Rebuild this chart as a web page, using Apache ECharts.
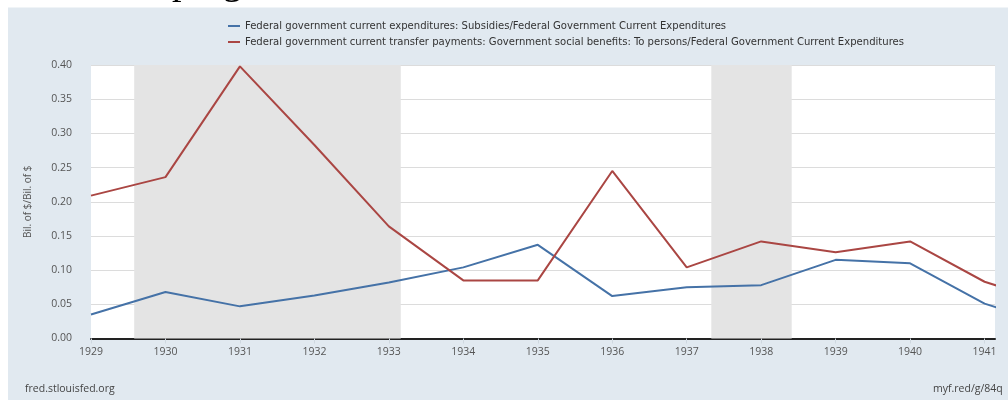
<!DOCTYPE html>
<html><head><meta charset="utf-8">
<script src="https://cdn.jsdelivr.net/npm/echarts@6/dist/echarts.min.js"></script>
<style>html,body{margin:0;padding:0;background:#fff}#c{width:1008px;height:400px}</style>
</head><body><div id="c"></div>
<script>
const years = [1929,1930,1931,1932,1933,1934,1935,1936,1937,1938,1939,1940,1941,1942];
const subsidies = [0.035,0.068,0.047,0.063,0.082,0.104,0.137,0.062,0.075,0.078,0.115,0.110,0.051,0.016];
const socialBenefits = [0.209,0.236,0.398,0.283,0.164,0.085,0.085,0.245,0.104,0.142,0.126,0.142,0.083,0.048];
const tickYears = [1929,1930,1931,1932,1933,1934,1935,1936,1937,1938,1939,1940,1941];
const recessionStarts = [1929.58, 1937.33];
const recessionEnds = [1933.16, 1938.41];
const seriesNames = [
  'Federal government current expenditures: Subsidies/Federal Government Current Expenditures',
  'Federal government current transfer payments: Government social benefits: To persons/Federal Government Current Expenditures'
];
const yAxisName = 'Bil. of $/Bil. of $';

const chart = echarts.init(document.getElementById('c'), null, {renderer:'canvas'});
const pairs = (a) => years.map((y,i)=>[y,a[i]]);
const recessions = recessionStarts.map((s,i)=>[{xAxis:s},{xAxis:recessionEnds[i]}]);
const font = "'Open Sans', sans-serif";
chart.setOption({
  backgroundColor:'#ffffff',
  animation:false,
  graphic:[
    {type:'text', z:-2, left:172, top:-35, style:{text:'program', font:"38px 'Liberation Serif', serif", fill:'#000'}},
    {type:'rect', z:-1, shape:{x:8,y:7.5,width:1000,height:393}, style:{fill:'#e1e9f0'}},
    {type:'text', left:25, top:384, style:{text:'fred.stlouisfed.org', font:"10.5px "+font, fill:'#444'}},
    {type:'text', left:933, top:384, style:{text:'myf.red/g/84q', font:"10.5px "+font, fill:'#444'}}
  ],
  legend:{
    orient:'vertical', left:228, top:19.5, padding:0, itemGap:3,
    icon:'rect', itemWidth:12, itemHeight:2,
    data:seriesNames,
    textStyle:{fontFamily:"'Liberation Sans Narrow','DejaVu Sans Condensed','Open Sans',sans-serif", fontSize:11.2, color:'#333', lineHeight:13}
  },
  grid:{left:91, right:13, top:65, bottom:61.5, show:true, backgroundColor:'#ffffff', borderWidth:0},
  xAxis:{
    type:'value', min:1929, max:1941.14, interval:1,
    axisLine:{show:true, lineStyle:{color:'#222', width:2}},
    axisTick:{show:true, length:5, customValues:tickYears, lineStyle:{color:'#cfd8e0'}},
    axisLabel:{customValues:tickYears, color:'#555', fontFamily:font, fontSize:10.5, margin:8, formatter:v=>String(v)},
    splitLine:{show:false}
  },
  yAxis:{
    type:'value', min:0, max:0.4, interval:0.05,
    name:yAxisName, nameLocation:'middle', nameGap:58,
    nameTextStyle:{color:'#555', fontFamily:font, fontSize:10},
    axisLine:{show:false}, axisTick:{show:false},
    axisLabel:{color:'#555', fontFamily:font, fontSize:10.5, margin:19, formatter:v=>v.toFixed(2)},
    splitLine:{lineStyle:{color:'#dcdcdc', width:1}}
  },
  series:[
    {name:seriesNames[0], type:'line', data:pairs(subsidies), showSymbol:false, clip:true,
     lineStyle:{color:'#4572a7', width:2}, itemStyle:{color:'#4572a7'}, z:3,
     markArea:{silent:true, itemStyle:{color:'#e4e4e4'}, data:recessions}},
    {name:seriesNames[1], type:'line', data:pairs(socialBenefits), showSymbol:false, clip:true,
     lineStyle:{color:'#aa4643', width:2}, itemStyle:{color:'#aa4643'}, z:4}
  ]
});
</script></body></html>
